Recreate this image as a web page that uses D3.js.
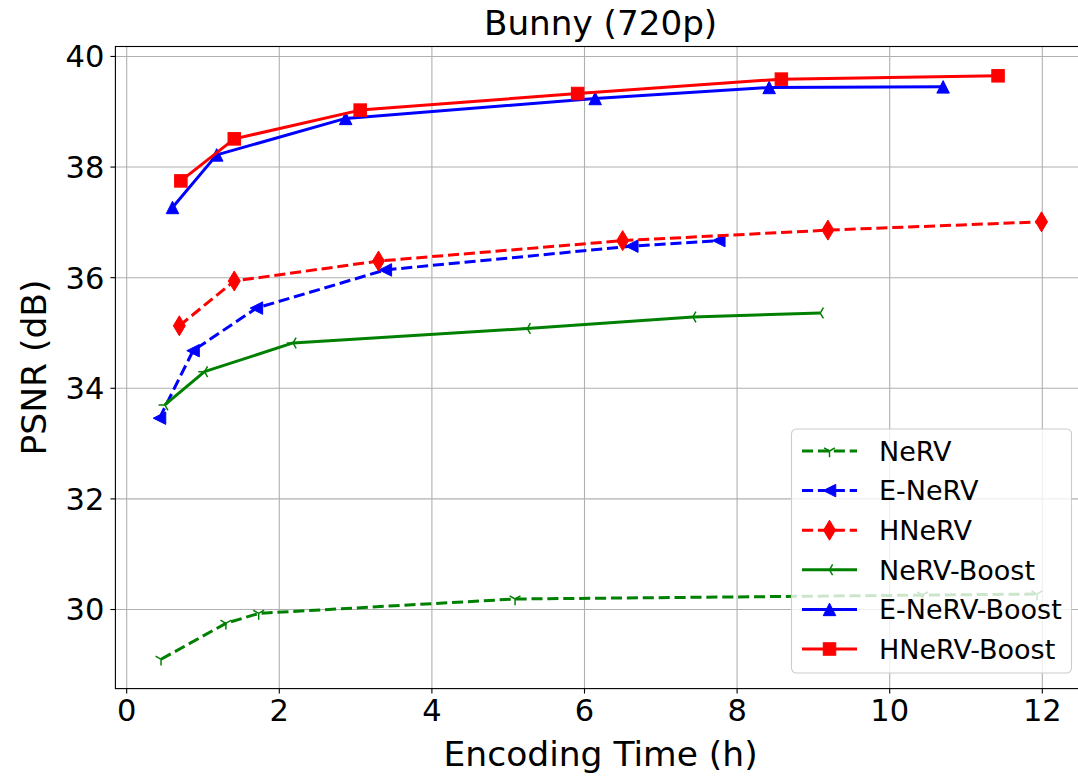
<!DOCTYPE html>
<html>
<head>
<meta charset="utf-8">
<script src="https://cdn.jsdelivr.net/npm/d3@7"></script>
<style>
body { margin: 0; background: #fff; }
svg { font-family: "DejaVu Sans", sans-serif; display: block; }
</style>
</head>
<body>
<script>
// values
var seriesNames = ["NeRV", "E-NeRV", "HNeRV", "NeRV-Boost", "E-NeRV-Boost", "HNeRV-Boost"];

var nervTime = [0.45, 1.30, 1.73, 5.09, 10.43, 11.93];
var nervPsnr = [29.10, 29.75, 29.93, 30.19, 30.26, 30.28];

var enervTime = [0.43, 0.87, 1.70, 3.39, 6.62, 7.76];
var enervPsnr = [33.46, 34.68, 35.45, 36.14, 36.57, 36.67];

var hnervTime = [0.69, 1.41, 3.30, 6.50, 9.19, 11.99];
var hnervPsnr = [35.13, 35.94, 36.30, 36.67, 36.86, 37.01];

var nervBoostTime = [0.50, 1.02, 2.18, 5.25, 7.42, 9.09];
var nervBoostPsnr = [33.70, 34.30, 34.82, 35.08, 35.29, 35.36];

var enervBoostTime = [0.60, 1.18, 2.87, 6.14, 8.42, 10.70];
var enervBoostPsnr = [37.27, 38.22, 38.88, 39.24, 39.44, 39.45];

var hnervBoostTime = [0.71, 1.41, 3.06, 5.91, 8.58, 11.42];
var hnervBoostPsnr = [37.75, 38.51, 39.03, 39.33, 39.59, 39.65];

var xTicks = [0, 2, 4, 6, 8, 10, 12];
var yTicks = [30, 32, 34, 36, 38, 40];

var W = 1078, H = 777;
var lw = 3;

// styling per series (colour, dashed, marker)
var series = [
	{name: seriesNames[0], t: nervTime, p: nervPsnr, color: "#008000", dashed: true, marker: "tri_down"},
	{name: seriesNames[1], t: enervTime, p: enervPsnr, color: "#0000ff", dashed: true, marker: "tri_left_filled"},
	{name: seriesNames[2], t: hnervTime, p: hnervPsnr, color: "#ff0000", dashed: true, marker: "thin_diamond"},
	{name: seriesNames[3], t: nervBoostTime, p: nervBoostPsnr, color: "#008000", dashed: false, marker: "tri_left"},
	{name: seriesNames[4], t: enervBoostTime, p: enervBoostPsnr, color: "#0000ff", dashed: false, marker: "triangle_up"},
	{name: seriesNames[5], t: hnervBoostTime, p: hnervBoostPsnr, color: "#ff0000", dashed: false, marker: "square"}
];

var x = d3.scaleLinear().domain([-0.148, 12.57]).range([115.4, 1085.8]);
var y = d3.scaleLinear().domain([28.57, 40.18]).range([688.6, 46.5]);

var svg = d3.select("body").append("svg")
	.attr("width", W).attr("height", H);

// grid
var grid = svg.append("g");
grid.selectAll(".gx").data(xTicks).enter().append("line")
	.attr("x1", function(d) { return x(d); }).attr("x2", function(d) { return x(d); })
	.attr("y1", y.range()[0]).attr("y2", y.range()[1])
	.attr("stroke", "#b0b0b0").attr("stroke-width", 1.1);
grid.selectAll(".gy").data(yTicks).enter().append("line")
	.attr("y1", function(d) { return y(d); }).attr("y2", function(d) { return y(d); })
	.attr("x1", x.range()[0]).attr("x2", x.range()[1])
	.attr("stroke", "#b0b0b0").attr("stroke-width", 1.1);

// marker shapes, drawn at the origin
function drawMarker(g, kind, color) {
	var s = 12.5, r = s / 2;
	if (kind == "square") {
		g.append("rect").attr("x", -r).attr("y", -r).attr("width", s).attr("height", s)
			.attr("fill", color).attr("stroke", color).attr("stroke-width", 1);
	} else if (kind == "triangle_up") {
		g.append("path").attr("d", "M0," + (-r) + "L" + r + "," + r + "L" + (-r) + "," + r + "Z")
			.attr("fill", color).attr("stroke", color).attr("stroke-width", 1);
	} else if (kind == "tri_left_filled") {
		g.append("path").attr("d", "M" + (-r) + ",0L" + r + "," + (-r) + "L" + r + "," + r + "Z")
			.attr("fill", color).attr("stroke", color).attr("stroke-width", 1);
	} else if (kind == "thin_diamond") {
		var h = 10, w = 6;
		g.append("path").attr("d", "M0," + (-h) + "L" + w + ",0L0," + h + "L" + (-w) + ",0Z")
			.attr("fill", color).attr("stroke", color).attr("stroke-width", 1);
	} else if (kind == "tri_down") {
		g.append("path")
			.attr("d", "M0,0L0," + r + "M0,0L" + (0.866 * r) + "," + (-0.5 * r) + "M0,0L" + (-0.866 * r) + "," + (-0.5 * r))
			.attr("fill", "none").attr("stroke", color).attr("stroke-width", 1.5);
	} else if (kind == "tri_left") {
		g.append("path")
			.attr("d", "M0,0L" + (-r) + ",0M0,0L" + (0.5 * r) + "," + (-0.866 * r) + "M0,0L" + (0.5 * r) + "," + (0.866 * r))
			.attr("fill", "none").attr("stroke", color).attr("stroke-width", 1.5);
	}
}

var line = d3.line()
	.x(function(d) { return x(d[0]); })
	.y(function(d) { return y(d[1]); });

var plot = svg.append("g");
series.forEach(function(s) {
	var pts = d3.zip(s.t, s.p);
	plot.append("path")
		.attr("d", line(pts))
		.attr("fill", "none")
		.attr("stroke", s.color)
		.attr("stroke-width", lw)
		.attr("stroke-linejoin", "round")
		.attr("stroke-dasharray", s.dashed ? (3.7 * lw) + "," + (1.6 * lw) : null);
	pts.forEach(function(d) {
		var g = plot.append("g").attr("transform", "translate(" + x(d[0]) + "," + y(d[1]) + ")");
		drawMarker(g, s.marker, s.color);
	});
});

// spines
var x0 = x.range()[0], x1 = x.range()[1], y0 = y.range()[0], y1 = y.range()[1];
svg.append("rect")
	.attr("x", x0).attr("y", y1).attr("width", x1 - x0).attr("height", y0 - y1)
	.attr("fill", "none").attr("stroke", "#000").attr("stroke-width", 1.1);

// ticks + labels
var ax = svg.append("g");
ax.selectAll(".xt").data(xTicks).enter().append("line")
	.attr("x1", function(d) { return x(d); }).attr("x2", function(d) { return x(d); })
	.attr("y1", y0).attr("y2", y0 + 5)
	.attr("stroke", "#000").attr("stroke-width", 1.1);
ax.selectAll(".xl").data(xTicks).enter().append("text")
	.attr("x", function(d) { return x(d); })
	.attr("y", 721)
	.attr("text-anchor", "middle")
	.attr("font-size", 30.5)
	.text(function(d) { return d; });
ax.selectAll(".yt").data(yTicks).enter().append("line")
	.attr("y1", function(d) { return y(d); }).attr("y2", function(d) { return y(d); })
	.attr("x1", x0).attr("x2", x0 - 5)
	.attr("stroke", "#000").attr("stroke-width", 1.1);
ax.selectAll(".yl").data(yTicks).enter().append("text")
	.attr("x", x0 - 11)
	.attr("y", function(d) { return y(d); })
	.attr("dy", "0.36em")
	.attr("text-anchor", "end")
	.attr("font-size", 30.5)
	.text(function(d) { return d; });

// title and axis labels
svg.append("text")
	.attr("x", (x0 + x1) / 2).attr("y", 35)
	.attr("text-anchor", "middle").attr("font-size", 34.2)
	.text("Bunny (720p)");
svg.append("text")
	.attr("x", (x0 + x1) / 2).attr("y", 766)
	.attr("text-anchor", "middle").attr("font-size", 34.5)
	.text("Encoding Time (h)");
svg.append("text")
	.attr("transform", "translate(46," + ((y0 + y1) / 2) + ") rotate(-90)")
	.attr("text-anchor", "middle").attr("font-size", 34.5)
	.text("PSNR (dB)");

// legend
var legend = svg.append("g");
legend.append("rect")
	.attr("x", 791.5).attr("y", 429).attr("width", 280).attr("height", 244)
	.attr("rx", 5).attr("ry", 5)
	.attr("fill", "#fff").attr("fill-opacity", 0.8)
	.attr("stroke", "#cccccc").attr("stroke-width", 1.1);
var rowY = d3.scaleLinear().domain([0, 5]).range([451, 649]);
series.forEach(function(s, i) {
	var ly = rowY(i);
	legend.append("line")
		.attr("x1", 802).attr("x2", 857).attr("y1", ly).attr("y2", ly)
		.attr("stroke", s.color).attr("stroke-width", lw)
		.attr("stroke-dasharray", s.dashed ? (3.7 * lw) + "," + (1.6 * lw) : null);
	drawMarker(legend.append("g").attr("transform", "translate(829.5," + ly + ")"), s.marker, s.color);
	legend.append("text")
		.attr("x", 879).attr("y", ly).attr("dy", "0.36em")
		.attr("font-size", 27)
		.text(s.name);
});
</script>
</body>
</html>
